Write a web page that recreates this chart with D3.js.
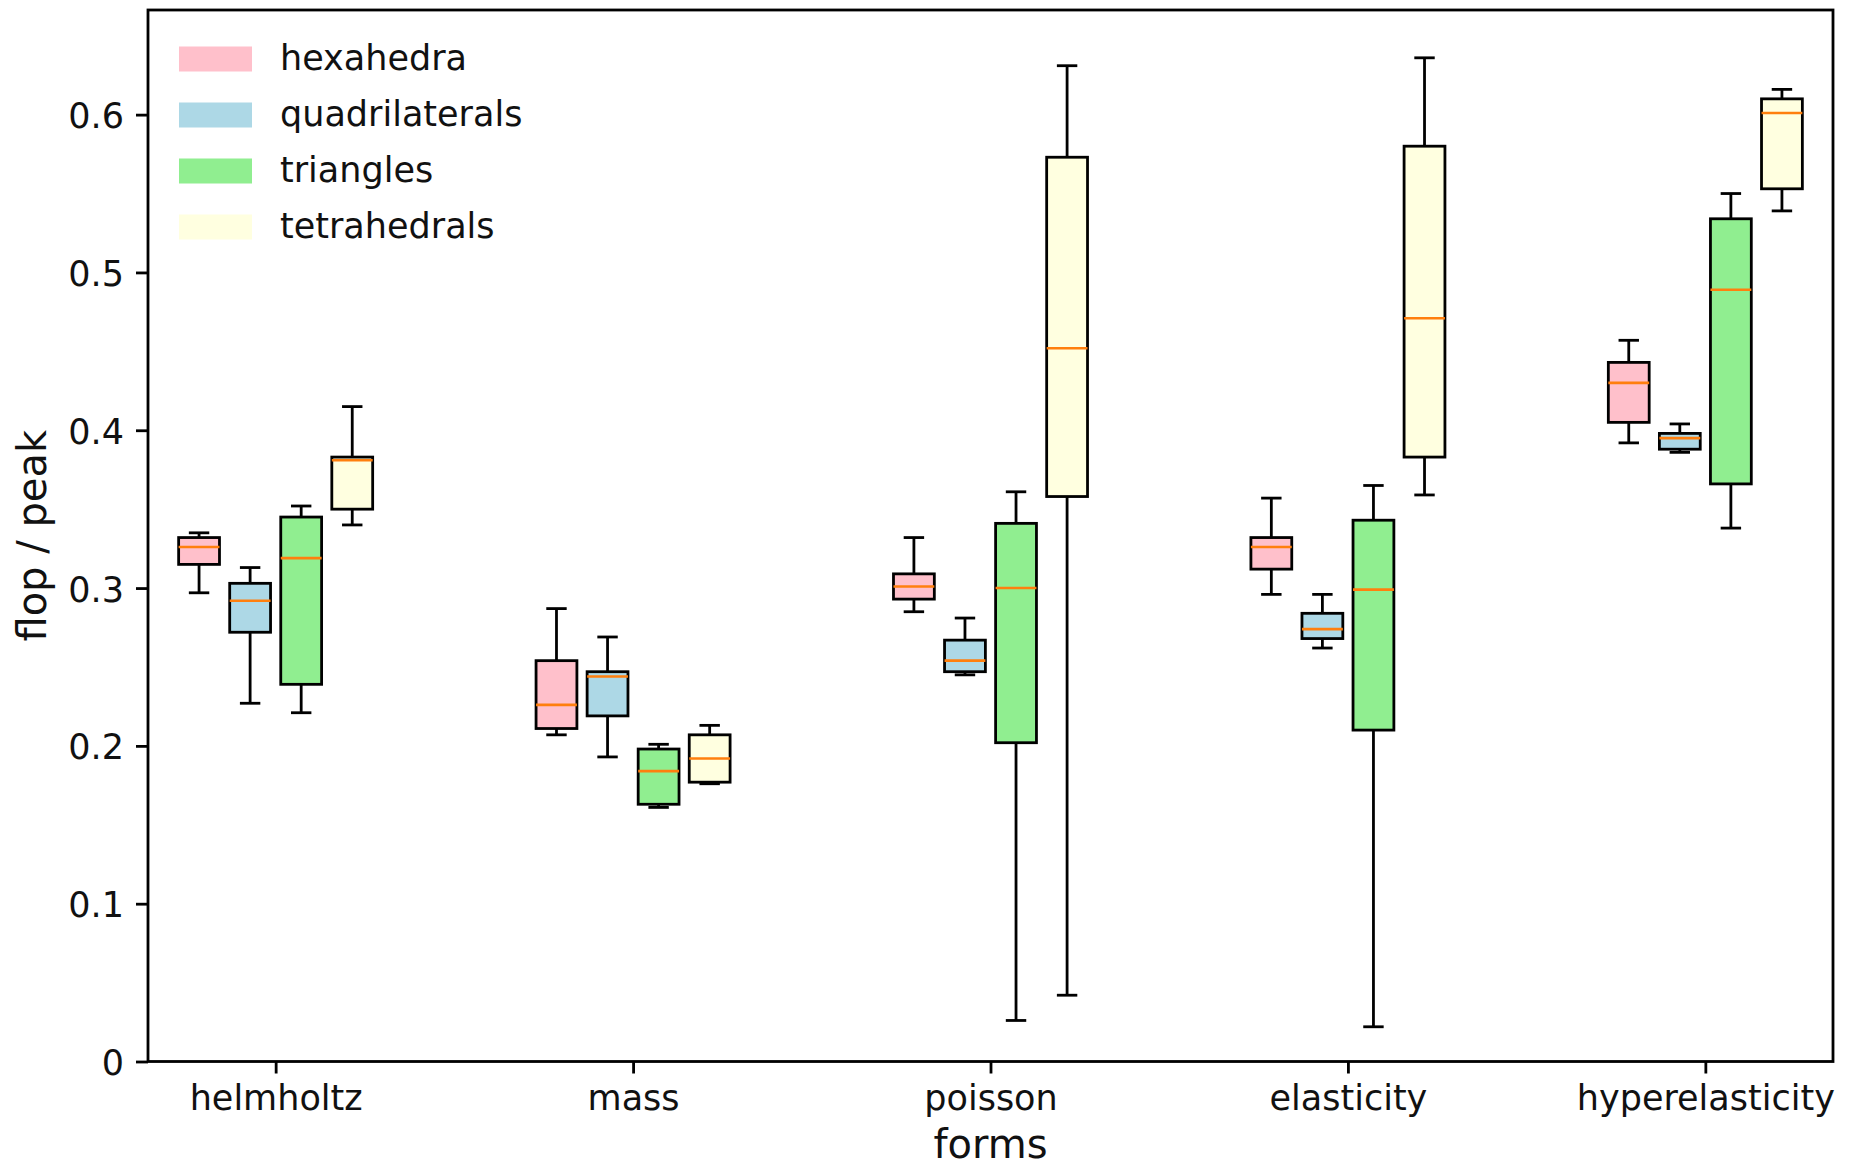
<!DOCTYPE html>
<html>
<head>
<meta charset="utf-8">
<script src="https://cdn.jsdelivr.net/npm/d3@7"></script>
<style>
  body { margin: 0; background: #fff; }
  svg { display: block; font-family: 'DejaVu Sans', sans-serif; }
</style>
</head>
<body>
<svg id="chart"></svg>
<script>
// forms on the x axis, one box per mesh type inside each group
const forms = ['helmholtz', 'mass', 'poisson', 'elasticity', 'hyperelasticity'];
const meshes = ['hexahedra', 'quadrilaterals', 'triangles', 'tetrahedrals'];
const meshColors = ['pink', 'lightblue', 'lightgreen', 'lightyellow'];
const yTicks = [0, 0.1, 0.2, 0.3, 0.4, 0.5, 0.6];

// [whisker low, q1, median, q3, whisker high] per form
const hexahedra = [
  [0.297, 0.315, 0.326, 0.332, 0.335],
  [0.207, 0.211, 0.226, 0.254, 0.287],
  [0.285, 0.293, 0.301, 0.309, 0.332],
  [0.296, 0.312, 0.326, 0.332, 0.357],
  [0.392, 0.405, 0.430, 0.443, 0.457],
];
const quadrilaterals = [
  [0.227, 0.272, 0.292, 0.303, 0.313],
  [0.193, 0.219, 0.244, 0.247, 0.269],
  [0.245, 0.247, 0.254, 0.267, 0.281],
  [0.262, 0.268, 0.274, 0.284, 0.296],
  [0.386, 0.388, 0.395, 0.398, 0.404],
];
const triangles = [
  [0.221, 0.239, 0.319, 0.345, 0.352],
  [0.161, 0.163, 0.184, 0.198, 0.201],
  [0.026, 0.202, 0.300, 0.341, 0.361],
  [0.022, 0.210, 0.299, 0.343, 0.365],
  [0.338, 0.366, 0.489, 0.534, 0.550],
];
const tetrahedrals = [
  [0.340, 0.350, 0.381, 0.383, 0.415],
  [0.176, 0.177, 0.192, 0.207, 0.213],
  [0.042, 0.358, 0.452, 0.573, 0.631],
  [0.359, 0.383, 0.471, 0.580, 0.636],
  [0.539, 0.553, 0.601, 0.610, 0.616],
];
const seriesStats = [hexahedra, quadrilaterals, triangles, tetrahedrals];

const width = 1854;
const height = 1169;
const marginTop = 10;
const marginRight = 21;
const marginBottom = 107.5;
const marginLeft = 148;
const fontSize = 35;
const labelSize = 40;
const fontFamily = "'DejaVu Sans', sans-serif";
const groupStep = 7; // slots between two forms
const boxWidth = 0.8;
const lineW = 2.8;

const svg = d3.select('#chart').attr('width', width).attr('height', height).attr('viewBox', [0, 0, width, height]);

const x = d3.scaleLinear([-2.5, 4 * groupStep + 2.5], [marginLeft, width - marginRight]);
const y = d3.scaleLinear([0, 0.6663], [height - marginBottom, marginTop]);

// boxes
const boxes = [];
seriesStats.forEach((stats, j) => {
  stats.forEach((s, i) => {
    boxes.push({ pos: i * groupStep + j - 1.5, color: meshColors[j], lo: s[0], q1: s[1], med: s[2], q3: s[3], hi: s[4] });
  });
});

const g = svg.append('g').attr('class', 'boxes');
const box = g.selectAll('g').data(boxes).join('g');

box
  .append('line')
  .attr('x1', (d) => x(d.pos))
  .attr('x2', (d) => x(d.pos))
  .attr('y1', (d) => y(d.lo))
  .attr('y2', (d) => y(d.q1))
  .attr('stroke', '#000')
  .attr('stroke-width', lineW);
box
  .append('line')
  .attr('x1', (d) => x(d.pos))
  .attr('x2', (d) => x(d.pos))
  .attr('y1', (d) => y(d.q3))
  .attr('y2', (d) => y(d.hi))
  .attr('stroke', '#000')
  .attr('stroke-width', lineW);
box
  .selectAll('.cap')
  .data((d) => [d.lo, d.hi].map((v) => ({ v, pos: d.pos })))
  .join('line')
  .attr('class', 'cap')
  .attr('x1', (d) => x(d.pos - boxWidth / 4))
  .attr('x2', (d) => x(d.pos + boxWidth / 4))
  .attr('y1', (d) => y(d.v))
  .attr('y2', (d) => y(d.v))
  .attr('stroke', '#000')
  .attr('stroke-width', lineW);
box
  .append('rect')
  .attr('x', (d) => x(d.pos - boxWidth / 2))
  .attr('width', (d) => x(d.pos + boxWidth / 2) - x(d.pos - boxWidth / 2))
  .attr('y', (d) => y(d.q3))
  .attr('height', (d) => y(d.q1) - y(d.q3))
  .attr('fill', (d) => d.color)
  .attr('stroke', '#000')
  .attr('stroke-width', lineW);
box
  .append('line')
  .attr('x1', (d) => x(d.pos - boxWidth / 2))
  .attr('x2', (d) => x(d.pos + boxWidth / 2))
  .attr('y1', (d) => y(d.med))
  .attr('y2', (d) => y(d.med))
  .attr('stroke', '#ff7f0e')
  .attr('stroke-width', 2.6);

// axes
const xAxis = d3
  .axisBottom(x)
  .tickValues(forms.map((_, i) => i * groupStep))
  .tickFormat((v) => forms[Math.round(v / groupStep)])
  .tickSize(12)
  .tickPadding(12);
svg
  .append('g')
  .attr('transform', `translate(0,${height - marginBottom})`)
  .call(xAxis)
  .attr('font-family', fontFamily)
  .attr('font-size', fontSize)
  .call((ax) => ax.select('.domain').remove())
  .call((ax) => ax.selectAll('.tick line').attr('stroke', '#000').attr('stroke-width', lineW))
  .call((ax) => ax.selectAll('.tick text').attr('fill', '#111').attr('dy', null).attr('y', 48));

const yAxis = d3.axisLeft(y).tickValues(yTicks).tickFormat(d3.format('.1~f')).tickSize(12).tickPadding(12);
svg
  .append('g')
  .attr('transform', `translate(${marginLeft},0)`)
  .call(yAxis)
  .attr('font-family', fontFamily)
  .attr('font-size', fontSize)
  .call((ax) => ax.select('.domain').remove())
  .call((ax) => ax.selectAll('.tick line').attr('stroke', '#000').attr('stroke-width', lineW))
  .call((ax) => ax.selectAll('.tick text').attr('fill', '#111').attr('dy', null).attr('y', 13));

// frame
svg
  .append('rect')
  .attr('x', marginLeft)
  .attr('y', marginTop)
  .attr('width', width - marginLeft - marginRight)
  .attr('height', height - marginTop - marginBottom)
  .attr('fill', 'none')
  .attr('stroke', '#000')
  .attr('stroke-width', lineW);

// axis titles
svg
  .append('text')
  .attr('x', (marginLeft + width - marginRight) / 2)
  .attr('y', 1158)
  .attr('text-anchor', 'middle')
  .attr('font-size', labelSize)
  .attr('fill', '#111')
  .text('forms');
svg
  .append('text')
  .attr('transform', `translate(46,${(marginTop + height - marginBottom) / 2}) rotate(-90)`)
  .attr('text-anchor', 'middle')
  .attr('font-size', labelSize)
  .attr('fill', '#111')
  .text('flop / peak');

// legend (no frame)
const legend = svg
  .append('g')
  .selectAll('g')
  .data(meshes)
  .join('g')
  .attr('transform', (d, i) => `translate(179,${59 + i * 56})`);
legend
  .append('rect')
  .attr('x', 0)
  .attr('y', -12.5)
  .attr('width', 73)
  .attr('height', 25)
  .attr('fill', (d, i) => meshColors[i]);
legend
  .append('text')
  .attr('x', 101)
  .attr('y', 11)
  .attr('font-size', fontSize)
  .attr('fill', '#111')
  .text((d) => d);
</script>
</body>
</html>
